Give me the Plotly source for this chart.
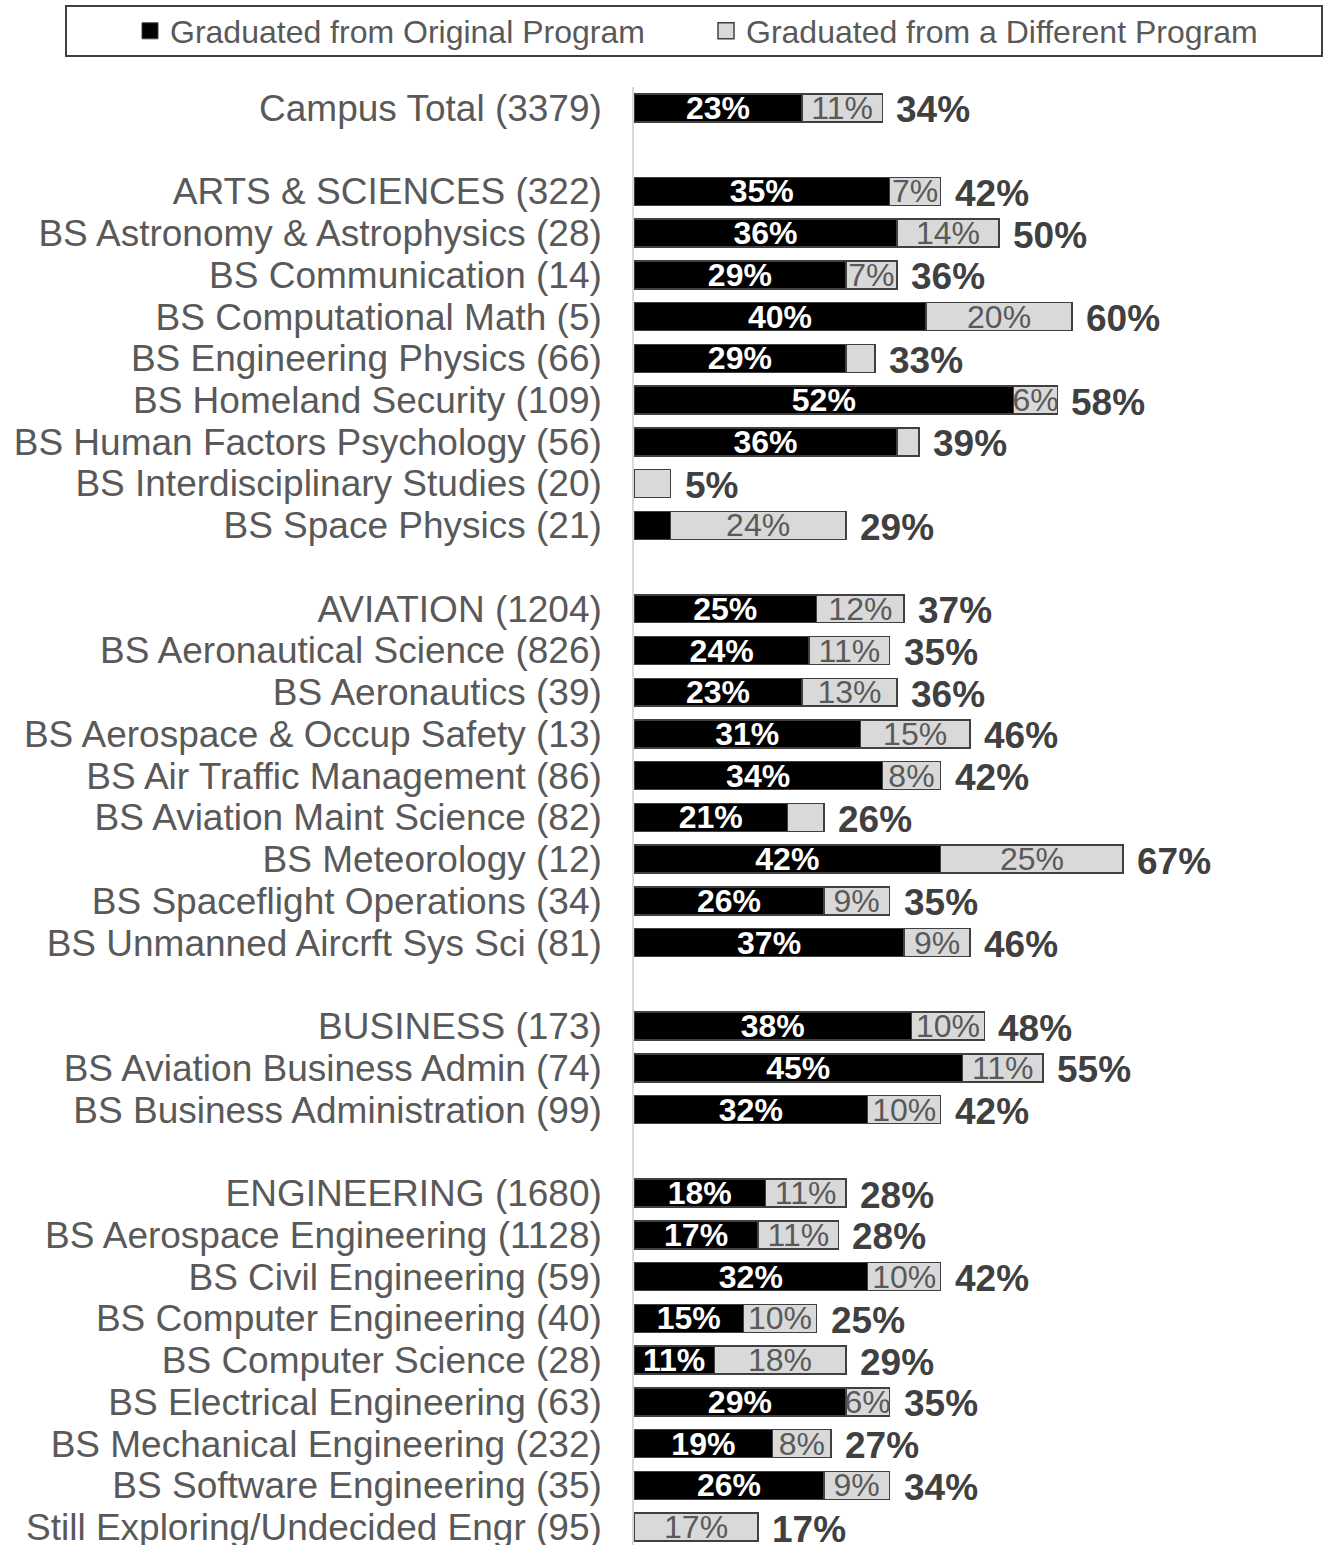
import plotly.graph_objects as go

categories = [
    "Campus Total (3379)",
    "ARTS & SCIENCES (322)", "BS Astronomy & Astrophysics (28)", "BS Communication (14)",
    "BS Computational Math (5)", "BS Engineering Physics (66)", "BS Homeland Security (109)",
    "BS Human Factors Psychology (56)", "BS Interdisciplinary Studies (20)", "BS Space Physics (21)",
    "AVIATION (1204)", "BS Aeronautical Science (826)", "BS Aeronautics (39)",
    "BS Aerospace & Occup Safety (13)", "BS Air Traffic Management (86)", "BS Aviation Maint Science (82)",
    "BS Meteorology (12)", "BS Spaceflight Operations (34)", "BS Unmanned Aircrft Sys Sci (81)",
    "BUSINESS (173)", "BS Aviation Business Admin (74)", "BS Business Administration (99)",
    "ENGINEERING (1680)", "BS Aerospace Engineering (1128)", "BS Civil Engineering (59)",
    "BS Computer Engineering (40)", "BS Computer Science (28)", "BS Electrical Engineering (63)",
    "BS Mechanical Engineering (232)", "BS Software Engineering (35)", "Still Exploring/Undecided Engr (95)",
]
original = [23, 35, 36, 29, 40, 29, 52, 36, 0, 5, 25, 24, 23, 31, 34, 21, 42, 26, 37,
            38, 45, 32, 18, 17, 32, 15, 11, 29, 19, 26, 0]
different = [11, 7, 14, 7, 20, 4, 6, 3, 5, 24, 12, 11, 13, 15, 8, 5, 25, 9, 9,
             10, 11, 10, 11, 11, 10, 10, 18, 6, 8, 9, 17]
total = [34, 42, 50, 36, 60, 33, 58, 39, 5, 29, 37, 35, 36, 46, 42, 26, 67, 35, 46,
         48, 55, 42, 28, 28, 42, 25, 29, 35, 27, 34, 17]
# a blank row follows each of these categories
gap_after = ["Campus Total (3379)", "BS Space Physics (21)",
             "BS Unmanned Aircrft Sys Sci (81)", "BS Business Administration (99)"]
series_names = ["Graduated from Original Program", "Graduated from a Different Program"]

FONT = "Liberation Sans, Arial, sans-serif"
order = []
for c in categories:
    order.append(c)
    if c in gap_after:
        order.append(" " * (len(order) + 1))

orig_text = [f"{v}%" if v >= 6 else "" for v in original]
diff_text = [f"{v}%" if v >= 6 else "" for v in different]
ends = [a + b for a, b in zip(original, different)]

fig = go.Figure()
fig.add_trace(go.Bar(
    y=categories, x=original, orientation="h", name=series_names[0], showlegend=False,
    marker=dict(color="#000000", line=dict(color="#404040", width=1.5)),
    text=orig_text, textposition="inside", insidetextanchor="middle", constraintext="none",
    textangle=0, textfont=dict(family=FONT, size=32, color="#ffffff", weight="bold"),
    hoverinfo="skip",
))
fig.add_trace(go.Bar(
    y=categories, x=different, orientation="h", name=series_names[1], showlegend=False,
    marker=dict(color="#d9d9d9", line=dict(color="#404040", width=1.5)),
    text=diff_text, textposition="inside", insidetextanchor="middle", constraintext="none",
    textangle=0, textfont=dict(family=FONT, size=32, color="#595959"),
    hoverinfo="skip",
))
# legend entries
fig.add_trace(go.Scatter(
    x=[None], y=[None], mode="markers", name=series_names[0],
    marker=dict(symbol="square", size=16, color="#000000", line=dict(color="#404040", width=1)),
))
fig.add_trace(go.Scatter(
    x=[None], y=[None], mode="markers", name=series_names[1],
    marker=dict(symbol="square", size=16, color="#d9d9d9", line=dict(color="#404040", width=1.5)),
))

# total labels at the end of each stacked bar
for c, e, t in zip(categories, ends, total):
    fig.add_annotation(
        x=e, y=c, xref="x", yref="y", text=f"{t}%", showarrow=False,
        xanchor="left", yanchor="middle", xshift=12, yshift=-2,
        font=dict(family=FONT, size=37, color="#404040", weight="bold"),
    )

W, H = 1324, 1545
L, T, B = 634, 87, 0
ph = H - T - B
pw = W - L
fig.update_layout(
    width=W, height=H,
    margin=dict(l=L, r=0, t=T, b=B, autoexpand=False),
    barmode="stack", bargap=0.33,
    plot_bgcolor="#ffffff", paper_bgcolor="#ffffff",
    font=dict(family=FONT, color="#595959"),
    legend=dict(
        orientation="h", xref="paper", yref="paper", traceorder="normal",
        x=(130 - L) / pw, xanchor="left",
        y=1 + (T - 31) / ph, yanchor="middle",
        font=dict(family=FONT, size=32, color="#595959"),
        entrywidth=531, entrywidthmode="pixels", bgcolor="rgba(0,0,0,0)",
    ),
    xaxis=dict(range=[0, 94.5], visible=False, fixedrange=True, automargin=False),
    yaxis=dict(
        type="category", categoryorder="array", categoryarray=order,
        tickmode="array", tickvals=order, ticktext=order,
        range=[len(order) - 1 + 0.43, -0.5], automargin=False,
        showline=True, linecolor="#d9d9d9", linewidth=1.5,
        showgrid=False, ticks="", ticklabelstandoff=23,
        tickfont=dict(family=FONT, size=37, color="#595959"),
    ),
    shapes=[dict(
        type="rect", xref="paper", yref="paper",
        x0=(66 - L) / pw, x1=(1322 - L) / pw,
        y0=1 + (T - 56) / ph, y1=1 + (T - 6) / ph,
        line=dict(color="#404040", width=2), fillcolor="rgba(0,0,0,0)",
    )],
)
# remove the page's default body margin so the figure fills the window exactly
fig.write_html("out.html", config={"displayModeBar": False},
               post_script="document.body.style.margin='0';")
